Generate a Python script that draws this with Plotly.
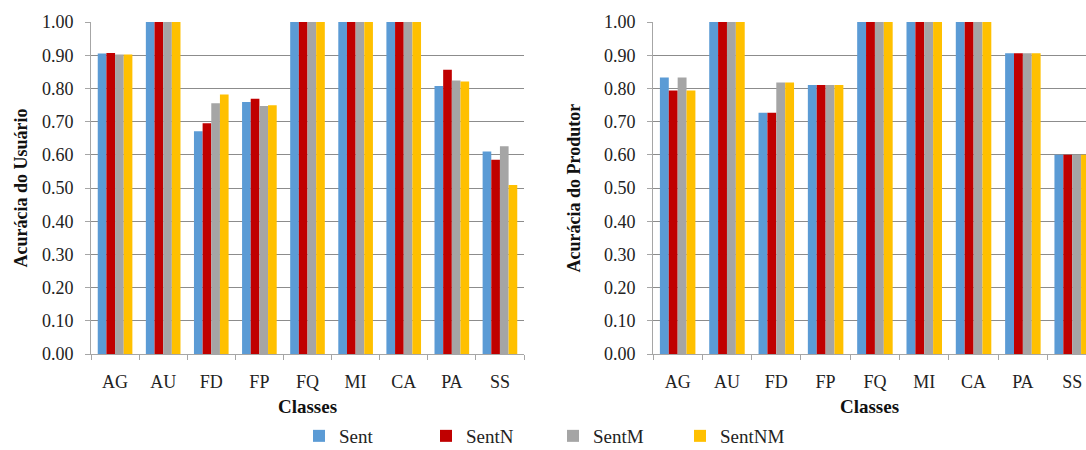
import plotly.graph_objects as go

classes = ["AG", "AU", "FD", "FP", "FQ", "MI", "CA", "PA", "SS"]
series_names = ["Sent", "SentN", "SentM", "SentNM"]
colors = ["#5B9BD5", "#C00000", "#A5A5A5", "#FFC000"]

# Acurácia do Usuário
user_sent   = [0.905, 1.00, 0.671, 0.759, 1.00, 1.00, 1.00, 0.807, 0.610]
user_sentn  = [0.907, 1.00, 0.695, 0.769, 1.00, 1.00, 1.00, 0.856, 0.585]
user_sentm  = [0.902, 1.00, 0.755, 0.747, 1.00, 1.00, 1.00, 0.824, 0.626]
user_sentnm = [0.902, 1.00, 0.782, 0.749, 1.00, 1.00, 1.00, 0.821, 0.509]

# Acurácia do Produtor
prod_sent   = [0.833, 1.00, 0.727, 0.810, 1.00, 1.00, 1.00, 0.906, 0.600]
prod_sentn  = [0.794, 1.00, 0.727, 0.810, 1.00, 1.00, 1.00, 0.906, 0.600]
prod_sentm  = [0.833, 1.00, 0.818, 0.810, 1.00, 1.00, 1.00, 0.906, 0.600]
prod_sentnm = [0.794, 1.00, 0.818, 0.810, 1.00, 1.00, 1.00, 0.906, 0.600]

y_ticks = [0.0, 0.1, 0.2, 0.3, 0.4, 0.5, 0.6, 0.7, 0.8, 0.9, 1.0]

user_series = [user_sent, user_sentn, user_sentm, user_sentnm]
prod_series = [prod_sent, prod_sentn, prod_sentm, prod_sentnm]

FONT = "Liberation Serif, Times New Roman, serif"
W, H = 1086, 450
ML = 91

fig = go.Figure()
for name, col, vals in zip(series_names, colors, user_series):
    fig.add_trace(go.Bar(x=classes, y=vals, name=name, marker=dict(color=col, line=dict(width=0)),
                         xaxis="x", yaxis="y", legendgroup=name))
for name, col, vals in zip(series_names, colors, prod_series):
    fig.add_trace(go.Bar(x=classes, y=vals, name=name, marker=dict(color=col, line=dict(width=0)),
                         xaxis="x2", yaxis="y2", legendgroup=name, showlegend=False))

plot_w = W - ML
left_dom = [0, (524 - ML) / plot_w]
right_dom = [(653 - ML) / plot_w, 1]

axis_common_x = dict(
    showline=True, linecolor="#A6A6A6", linewidth=1,
    ticks="outside", tickson="boundaries", ticklen=5, tickcolor="#A6A6A6",
    tickfont=dict(family=FONT, size=18, color="#222"),
    ticklabelstandoff=11,
    title=dict(text="<b>Classes</b>", font=dict(family=FONT, size=19, color="#111"), standoff=12),
    showgrid=False, zeroline=False,
)
axis_common_y = dict(
    range=[0, 1.0], tickvals=y_ticks, tickformat=".2f",
    showline=True, linecolor="#A6A6A6", linewidth=1,
    ticks="outside", ticklen=5, tickcolor="#A6A6A6",
    tickfont=dict(family=FONT, size=18, color="#222"),
    ticklabelstandoff=8,
    showgrid=True, gridcolor="#8C8C8C", gridwidth=1, zeroline=False,
)

fig.update_layout(
    width=W, height=H,
    font=dict(family=FONT, color="#222"),
    margin=dict(l=ML, r=0, t=22, b=94),
    paper_bgcolor="white", plot_bgcolor="white",
    barmode="group", bargap=0.28, bargroupgap=0,
    xaxis=dict(domain=left_dom, anchor="y", range=[-0.5, len(classes) - 0.5], **axis_common_x),
    xaxis2=dict(domain=right_dom, anchor="y2", range=[-0.5, len(classes) - 0.72], **axis_common_x),
    yaxis=dict(anchor="x",
               title=dict(text="<b>Acurácia do Usuário</b>", font=dict(family=FONT, size=18, color="#111"), standoff=9),
               **axis_common_y),
    yaxis2=dict(anchor="x2",
                title=dict(text="<b>Acurácia do Produtor</b>", font=dict(family=FONT, size=18, color="#111"), standoff=18),
                **axis_common_y),
    legend=dict(orientation="h", xref="container", yref="container",
                x=299 / W, xanchor="left", y=14 / H, yanchor="middle",
                font=dict(family=FONT, size=19, color="#222"),
                entrywidth=82, entrywidthmode="pixels", itemwidth=30,
                bgcolor="rgba(0,0,0,0)"),
    showlegend=True,
)

fig.write_html(
    "out.html",
    config={"displayModeBar": False},
    post_script="document.documentElement.style.overflow='hidden';"
                "document.body.style.overflow='hidden';document.body.style.margin='0';",
)
